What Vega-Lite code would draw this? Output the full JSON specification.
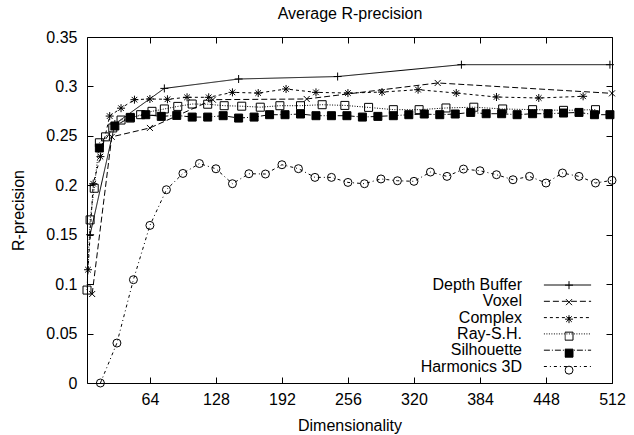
{
  "$schema": "https://vega.github.io/schema/vega-lite/v6.json",
  "width": 525,
  "height": 346,
  "autosize": {"type": "none"},
  "padding": {"left": 87, "top": 37, "right": 22, "bottom": 52},
  "config": {
    "font": "Liberation Sans",
    "view": {"stroke": "black", "strokeWidth": 1},
    "axis": {"grid": false, "domain": false, "tickColor": "black", "tickWidth": 1, "labelColor": "black", "titleColor": "black", "labelFontSize": 16, "titleFontSize": 16, "titleFontWeight": "normal", "labelFont": "Liberation Sans", "titleFont": "Liberation Sans"},
    "legend": {"labelFont": "Liberation Sans", "labelFontSize": 16, "labelColor": "black", "padding": 0}
  },
  "datasets": {
    "rdata": [
      {"series": "Depth Buffer", "dim": 6, "rprec": 0.150},
      {"series": "Depth Buffer", "dim": 30, "rprec": 0.262},
      {"series": "Depth Buffer", "dim": 78, "rprec": 0.298},
      {"series": "Depth Buffer", "dim": 150, "rprec": 0.3075},
      {"series": "Depth Buffer", "dim": 246, "rprec": 0.310},
      {"series": "Depth Buffer", "dim": 366, "rprec": 0.322},
      {"series": "Depth Buffer", "dim": 510, "rprec": 0.322},
      {"series": "Voxel", "dim": 8, "rprec": 0.090},
      {"series": "Voxel", "dim": 27, "rprec": 0.249},
      {"series": "Voxel", "dim": 64, "rprec": 0.258},
      {"series": "Voxel", "dim": 125, "rprec": 0.2866},
      {"series": "Voxel", "dim": 216, "rprec": 0.2873},
      {"series": "Voxel", "dim": 343, "rprec": 0.3035},
      {"series": "Voxel", "dim": 512, "rprec": 0.293},
      {"series": "Complex", "dim": 4, "rprec": 0.1146},
      {"series": "Complex", "dim": 9, "rprec": 0.2016},
      {"series": "Complex", "dim": 16, "rprec": 0.229},
      {"series": "Complex", "dim": 25, "rprec": 0.270},
      {"series": "Complex", "dim": 36, "rprec": 0.278},
      {"series": "Complex", "dim": 49, "rprec": 0.2866},
      {"series": "Complex", "dim": 64, "rprec": 0.2873},
      {"series": "Complex", "dim": 81, "rprec": 0.287},
      {"series": "Complex", "dim": 100, "rprec": 0.289},
      {"series": "Complex", "dim": 121, "rprec": 0.289},
      {"series": "Complex", "dim": 144, "rprec": 0.294},
      {"series": "Complex", "dim": 169, "rprec": 0.2933},
      {"series": "Complex", "dim": 196, "rprec": 0.2974},
      {"series": "Complex", "dim": 225, "rprec": 0.294},
      {"series": "Complex", "dim": 256, "rprec": 0.2933},
      {"series": "Complex", "dim": 289, "rprec": 0.2943},
      {"series": "Complex", "dim": 324, "rprec": 0.2967},
      {"series": "Complex", "dim": 361, "rprec": 0.2933},
      {"series": "Complex", "dim": 400, "rprec": 0.2893},
      {"series": "Complex", "dim": 441, "rprec": 0.2883},
      {"series": "Complex", "dim": 484, "rprec": 0.290},
      {"series": "Ray-S.H.", "dim": 3, "rprec": 0.094},
      {"series": "Ray-S.H.", "dim": 6, "rprec": 0.165},
      {"series": "Ray-S.H.", "dim": 10, "rprec": 0.197},
      {"series": "Ray-S.H.", "dim": 15, "rprec": 0.243},
      {"series": "Ray-S.H.", "dim": 21, "rprec": 0.249},
      {"series": "Ray-S.H.", "dim": 28, "rprec": 0.258},
      {"series": "Ray-S.H.", "dim": 36, "rprec": 0.266},
      {"series": "Ray-S.H.", "dim": 45, "rprec": 0.268},
      {"series": "Ray-S.H.", "dim": 55, "rprec": 0.2714},
      {"series": "Ray-S.H.", "dim": 66, "rprec": 0.2748},
      {"series": "Ray-S.H.", "dim": 78, "rprec": 0.2772},
      {"series": "Ray-S.H.", "dim": 91, "rprec": 0.2798},
      {"series": "Ray-S.H.", "dim": 105, "rprec": 0.2822},
      {"series": "Ray-S.H.", "dim": 120, "rprec": 0.282},
      {"series": "Ray-S.H.", "dim": 136, "rprec": 0.2805},
      {"series": "Ray-S.H.", "dim": 153, "rprec": 0.280},
      {"series": "Ray-S.H.", "dim": 171, "rprec": 0.279},
      {"series": "Ray-S.H.", "dim": 190, "rprec": 0.2805},
      {"series": "Ray-S.H.", "dim": 210, "rprec": 0.2805},
      {"series": "Ray-S.H.", "dim": 231, "rprec": 0.2815},
      {"series": "Ray-S.H.", "dim": 253, "rprec": 0.2808},
      {"series": "Ray-S.H.", "dim": 276, "rprec": 0.2788},
      {"series": "Ray-S.H.", "dim": 300, "rprec": 0.2765},
      {"series": "Ray-S.H.", "dim": 325, "rprec": 0.2765},
      {"series": "Ray-S.H.", "dim": 351, "rprec": 0.2782},
      {"series": "Ray-S.H.", "dim": 378, "rprec": 0.279},
      {"series": "Ray-S.H.", "dim": 406, "rprec": 0.2772},
      {"series": "Ray-S.H.", "dim": 435, "rprec": 0.2765},
      {"series": "Ray-S.H.", "dim": 465, "rprec": 0.2758},
      {"series": "Ray-S.H.", "dim": 496, "rprec": 0.2765},
      {"series": "Silhouette", "dim": 15, "rprec": 0.2377},
      {"series": "Silhouette", "dim": 30, "rprec": 0.260},
      {"series": "Silhouette", "dim": 45, "rprec": 0.2687},
      {"series": "Silhouette", "dim": 60, "rprec": 0.2714},
      {"series": "Silhouette", "dim": 75, "rprec": 0.2697},
      {"series": "Silhouette", "dim": 90, "rprec": 0.2707},
      {"series": "Silhouette", "dim": 105, "rprec": 0.269},
      {"series": "Silhouette", "dim": 120, "rprec": 0.269},
      {"series": "Silhouette", "dim": 135, "rprec": 0.2704},
      {"series": "Silhouette", "dim": 150, "rprec": 0.268},
      {"series": "Silhouette", "dim": 165, "rprec": 0.269},
      {"series": "Silhouette", "dim": 180, "rprec": 0.2714},
      {"series": "Silhouette", "dim": 195, "rprec": 0.2714},
      {"series": "Silhouette", "dim": 210, "rprec": 0.2721},
      {"series": "Silhouette", "dim": 225, "rprec": 0.2704},
      {"series": "Silhouette", "dim": 240, "rprec": 0.2704},
      {"series": "Silhouette", "dim": 255, "rprec": 0.2704},
      {"series": "Silhouette", "dim": 270, "rprec": 0.269},
      {"series": "Silhouette", "dim": 285, "rprec": 0.2697},
      {"series": "Silhouette", "dim": 300, "rprec": 0.2704},
      {"series": "Silhouette", "dim": 315, "rprec": 0.2714},
      {"series": "Silhouette", "dim": 330, "rprec": 0.2721},
      {"series": "Silhouette", "dim": 345, "rprec": 0.2714},
      {"series": "Silhouette", "dim": 360, "rprec": 0.2721},
      {"series": "Silhouette", "dim": 375, "rprec": 0.2737},
      {"series": "Silhouette", "dim": 390, "rprec": 0.2724},
      {"series": "Silhouette", "dim": 405, "rprec": 0.2724},
      {"series": "Silhouette", "dim": 420, "rprec": 0.2714},
      {"series": "Silhouette", "dim": 435, "rprec": 0.2724},
      {"series": "Silhouette", "dim": 450, "rprec": 0.2724},
      {"series": "Silhouette", "dim": 465, "rprec": 0.2731},
      {"series": "Silhouette", "dim": 480, "rprec": 0.2737},
      {"series": "Silhouette", "dim": 495, "rprec": 0.2714},
      {"series": "Silhouette", "dim": 510, "rprec": 0.2714},
      {"series": "Harmonics 3D", "dim": 16, "rprec": 0.0},
      {"series": "Harmonics 3D", "dim": 32, "rprec": 0.0404},
      {"series": "Harmonics 3D", "dim": 48, "rprec": 0.1045},
      {"series": "Harmonics 3D", "dim": 64, "rprec": 0.1594},
      {"series": "Harmonics 3D", "dim": 80, "rprec": 0.1955},
      {"series": "Harmonics 3D", "dim": 96, "rprec": 0.212},
      {"series": "Harmonics 3D", "dim": 112, "rprec": 0.222},
      {"series": "Harmonics 3D", "dim": 128, "rprec": 0.2167},
      {"series": "Harmonics 3D", "dim": 144, "rprec": 0.2016},
      {"series": "Harmonics 3D", "dim": 160, "rprec": 0.2117},
      {"series": "Harmonics 3D", "dim": 176, "rprec": 0.2114},
      {"series": "Harmonics 3D", "dim": 192, "rprec": 0.2208},
      {"series": "Harmonics 3D", "dim": 208, "rprec": 0.2168},
      {"series": "Harmonics 3D", "dim": 224, "rprec": 0.208},
      {"series": "Harmonics 3D", "dim": 240, "rprec": 0.208},
      {"series": "Harmonics 3D", "dim": 256, "rprec": 0.2029},
      {"series": "Harmonics 3D", "dim": 272, "rprec": 0.2016},
      {"series": "Harmonics 3D", "dim": 288, "rprec": 0.2064},
      {"series": "Harmonics 3D", "dim": 304, "rprec": 0.2046},
      {"series": "Harmonics 3D", "dim": 320, "rprec": 0.204},
      {"series": "Harmonics 3D", "dim": 336, "rprec": 0.2134},
      {"series": "Harmonics 3D", "dim": 352, "rprec": 0.209},
      {"series": "Harmonics 3D", "dim": 368, "rprec": 0.2164},
      {"series": "Harmonics 3D", "dim": 384, "rprec": 0.2147},
      {"series": "Harmonics 3D", "dim": 400, "rprec": 0.2107},
      {"series": "Harmonics 3D", "dim": 416, "rprec": 0.2056},
      {"series": "Harmonics 3D", "dim": 432, "rprec": 0.209},
      {"series": "Harmonics 3D", "dim": 448, "rprec": 0.2023},
      {"series": "Harmonics 3D", "dim": 464, "rprec": 0.2124},
      {"series": "Harmonics 3D", "dim": 480, "rprec": 0.209},
      {"series": "Harmonics 3D", "dim": 496, "rprec": 0.2023},
      {"series": "Harmonics 3D", "dim": 512, "rprec": 0.205}
    ]
  },
  "data": {"name": "rdata"},
  "layer": [
    {
      "mark": {"type": "line", "color": "black", "strokeWidth": 1},
      "encoding": {
        "x": {"field": "dim", "type": "quantitative", "scale": {"domain": [3, 512], "nice": false, "zero": false},
          "axis": {"orient": "bottom", "values": [64, 128, 192, 256, 320, 384, 448, 512], "format": "d", "labelFlush": false, "tickSize": -6, "labelPadding": 14, "title": "Dimensionality", "titleY": 47, "titleBaseline": "alphabetic"}},
        "y": {"field": "rprec", "type": "quantitative", "scale": {"domain": [0, 0.35], "nice": false, "zero": false},
          "axis": {"orient": "left", "values": [0, 0.05, 0.1, 0.15, 0.2, 0.25, 0.3, 0.35], "format": "~g", "labelFlush": false, "tickSize": -6, "labelPadding": 16, "title": "R-precision", "titleAngle": 270, "titleX": -64, "titleY": 173, "titleBaseline": "alphabetic", "titleAlign": "center"}},
        "strokeDash": {"field": "series", "type": "nominal",
          "sort": ["Depth Buffer", "Voxel", "Complex", "Ray-S.H.", "Silhouette", "Harmonics 3D"],
          "scale": {"range": [[1, 0], [6, 3], [3, 3], [1, 1.5], [6, 2, 1, 2], [3, 3, 1, 3]]},
          "legend": {"orient": "none", "legendX": 472.5, "legendY": 240, "title": null, "symbolType": "M-5.9,0L5.9,0", "symbolSize": 64, "symbolStrokeWidth": 1, "symbolStrokeColor": "black", "labelAlign": "right", "labelBaseline": "middle", "labelOffset": -53.5, "rowPadding": 0.3}}
      }
    },
    {
      "mark": {"type": "point", "strokeWidth": 1, "size": 64, "opacity": 1},
      "encoding": {
        "x": {"field": "dim", "type": "quantitative",
          "axis": {"orient": "top", "values": [64, 128, 192, 256, 320, 384, 448, 512], "labels": false, "tickSize": -6, "title": "Average R-precision", "titleX": 262.5, "titleY": -19, "titleBaseline": "alphabetic", "titleAlign": "center", "titleAngle": 0}},
        "y": {"field": "rprec", "type": "quantitative",
          "axis": {"orient": "right", "values": [0, 0.05, 0.1, 0.15, 0.2, 0.25, 0.3, 0.35], "labels": false, "tickSize": -6, "title": null}},
        "shape": {"field": "series", "type": "nominal",
          "scale": {"domain": ["Depth Buffer", "Voxel", "Complex", "Ray-S.H.", "Silhouette", "Harmonics 3D"],
            "range": ["M-1,0L1,0M0,-1L0,1", "M-0.75,-0.75L0.75,0.75M-0.75,0.75L0.75,-0.75", "M-1,0L1,0M0,-1L0,1M-0.7,-0.7L0.7,0.7M-0.7,0.7L0.7,-0.7", "square", "square", "circle"]},
          "legend": {"orient": "none", "legendX": 477.5, "legendY": 240, "title": null, "symbolSize": 64, "symbolStrokeWidth": 1, "labelOpacity": 0, "labelFontSize": 1, "clipHeight": 16.3, "rowPadding": 0}},
        "fill": {"field": "series", "type": "nominal",
          "scale": {"domain": ["Depth Buffer", "Voxel", "Complex", "Ray-S.H.", "Silhouette", "Harmonics 3D"],
            "range": ["transparent", "transparent", "transparent", "transparent", "black", "transparent"]},
          "legend": {"orient": "none", "legendX": 477.5, "legendY": 240, "title": null, "symbolSize": 64, "symbolStrokeWidth": 1, "labelOpacity": 0, "labelFontSize": 1, "clipHeight": 16.3, "rowPadding": 0}},
        "stroke": {"field": "series", "type": "nominal",
          "scale": {"domain": ["Depth Buffer", "Voxel", "Complex", "Ray-S.H.", "Silhouette", "Harmonics 3D"],
            "range": ["black", "black", "black", "black", "black", "black"]},
          "legend": {"orient": "none", "legendX": 477.5, "legendY": 240, "title": null, "symbolSize": 64, "symbolStrokeWidth": 1, "labelOpacity": 0, "labelFontSize": 1, "clipHeight": 16.3, "rowPadding": 0}}
      }
    }
  ],
  "resolve": {"axis": {"x": "independent", "y": "independent"}}
}
